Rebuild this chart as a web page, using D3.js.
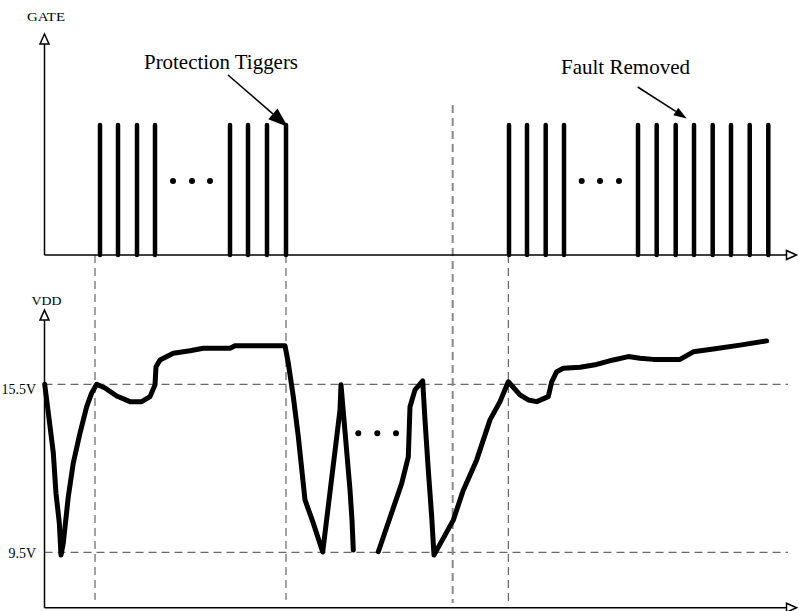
<!DOCTYPE html>
<html><head><meta charset="utf-8">
<script src="https://cdn.jsdelivr.net/npm/d3@7"></script>
<style>body{margin:0;background:#fff}svg{display:block}text{font-family:"Liberation Serif","Times New Roman",serif;fill:#000}</style>
</head><body>
<script>
// ---- data (time in arbitrary units, voltage in V) ----
const pulseTimesA = [55.5, 73.5, 92.5, 110.5, 185.5, 203.5, 222.5, 241.5];
const pulseTimesB = [464.5, 482.5, 501.2, 519.5, 593.5, 612.2, 631.2, 649.5, 668.2, 686.5, 705.2, 723.8];
const gateHigh = 1;
const vddSeg1 = [
 [0.2,15.5],[5.5,14.0],[8.8,13.05],[11.5,11.6],[14.8,10.55],[16.5,9.4],[18.8,9.83],[23.8,11.49],[28.8,12.69],
 [35.5,13.76],[42.2,14.7],[47.2,15.19],[52.2,15.5],[60.5,15.37],[72.2,15.08],[85.5,14.88],[97.2,14.88],
 [105.5,15.06],[110.5,15.48],[111.5,16.13],[115.5,16.37],[128.8,16.61],[145.5,16.7],[158.8,16.79],
 [185.5,16.79],[190.5,16.88],[240.5,16.88],[243.8,16.26],[248.8,15.06],[253.8,13.63],[260.5,11.37],
 [268.8,10.54],[278.2,9.51],[295.5,14.58],[296.5,15.48],[299.5,14.23],[305.5,11.73],[307.5,10.65],[308.8,9.58]
];
const vddSeg2 = [
 [333.8,9.52],[357.2,11.96],[363.8,12.91],[365.5,14.7],[370.5,15.3],[378.2,15.62],[380.5,14.22],[383.8,12.44],
 [387.2,10.77],[389.5,9.4],[408.8,10.65],[418.8,11.72],[432.2,12.8],[445.5,14.23],[455.5,14.88],[463.8,15.59],
 [475.5,15.12],[483.8,14.94],[492.2,14.88],[503.8,15.06],[507.2,15.59],[512.2,15.95],[518.8,16.07],[535.5,16.11],
 [552.2,16.21],[568.8,16.37],[583.8,16.49],[595.5,16.43],[608.8,16.39],[635.5,16.39],[648.8,16.66],[668.8,16.76],
 [695.5,16.9],[722.2,17.05]
];
const vddTicks = [15.5, 9.5];
const vddTickLabels = ["15.5V", "9.5V"];
const gateDotsT = [128.5, 147.5, 165.5];
const vddDotsT = [313.8, 332.8, 351.5];
const vddDotsV = 13.75;
const gateDots2T = [537.2, 555.5, 574.5];
const gateDotsV = 0.57;
// vertical markers: time, top (gate units), bottom (V)
const markerT = [50.5, 241.5, 408.2, 463.8];
const markerTopGate = [0, 0, 1.154, 0];
const markerBottomV = [7.8, 7.8, 7.69, 7.72];
const annotations = ["Protection Tiggers", "Fault Removed"];

// ---- scales ----
const W = 799, H = 611;
const x = d3.scaleLinear().domain([0, 750]).range([44.5, 794.5]);
const yG = d3.scaleLinear().domain([0, 1]).range([255, 125]);
const yV = d3.scaleLinear().domain([9.5, 15.5]).range([552.3, 384.3]);
const gateTop = 1.7, vMin = 7.52, vTop = 18.15, tEnd = 752;

const svg = d3.select("body").append("svg").attr("width", W).attr("height", H);

// dashed guides
const g = svg.append("g");
vddTicks.forEach(v => {
  g.append("line").attr("x1", x(0)).attr("x2", x(743.5)).attr("y1", yV(v)).attr("y2", yV(v))
   .attr("stroke", "#444").attr("stroke-width", 1).attr("stroke-dasharray", "8,5");
});
markerT.forEach((t, i) => {
  const special = i === 2;
  g.append("line").attr("x1", x(t)).attr("x2", x(t)).attr("y1", yG(markerTopGate[i])).attr("y2", yV(markerBottomV[i]))
   .attr("stroke", special ? "#888" : "#444").attr("stroke-width", special ? 2 : 1).attr("stroke-dasharray", "8,5");
});

// axes with open arrowheads
function axisArrowUp(cx, yTop, yBottom) {
  svg.append("line").attr("x1", cx).attr("x2", cx).attr("y1", yBottom).attr("y2", yTop + 9)
    .attr("stroke", "#000").attr("stroke-width", 1.5);
  svg.append("path").attr("d", `M${cx},${yTop} L${cx-4.5},${yTop+10} L${cx+4.5},${yTop+10} Z`)
    .attr("fill", "#fff").attr("stroke", "#000").attr("stroke-width", 1.5);
}
function axisArrowRight(cy, xLeft, xRight) {
  svg.append("line").attr("x1", xLeft).attr("x2", xRight - 9).attr("y1", cy).attr("y2", cy)
    .attr("stroke", "#000").attr("stroke-width", 1.5);
  svg.append("path").attr("d", `M${xRight},${cy} L${xRight-10},${cy-4.5} L${xRight-10},${cy+4.5} Z`)
    .attr("fill", "#fff").attr("stroke", "#000").attr("stroke-width", 1.5);
}
axisArrowUp(x(0), yG(gateTop), yG(0));
axisArrowRight(yG(0), x(0), x(tEnd));
axisArrowUp(x(0), yV(vTop), yV(vMin));
axisArrowRight(yV(vMin), x(0), x(tEnd));

svg.append("text").attr("x", x(1.5)).attr("y", 21).attr("text-anchor", "middle").attr("font-size", 12.5)
  .attr("textLength", 38).attr("lengthAdjust", "spacingAndGlyphs").text("GATE");
svg.append("text").attr("x", x(2)).attr("y", 305).attr("text-anchor", "middle").attr("font-size", 13)
  .attr("textLength", 30).attr("lengthAdjust", "spacingAndGlyphs").text("VDD");

vddTicks.forEach((v, i) => {
  svg.append("text").attr("x", 36).attr("y", yV(v) + (i === 0 ? 9.5 : 5.5)).attr("text-anchor", "end")
    .attr("font-size", 14).text(vddTickLabels[i]);
});

// gate pulses
const pulses = pulseTimesA.concat(pulseTimesB);
svg.append("g").selectAll("line").data(pulses).join("line")
  .attr("x1", d => x(d)).attr("x2", d => x(d)).attr("y1", yG(0)).attr("y2", yG(gateHigh))
  .attr("stroke", "#000").attr("stroke-width", 4.5).attr("stroke-linecap", "round");

// dots
svg.append("g").selectAll("circle").data(gateDotsT.concat(gateDots2T)).join("circle")
  .attr("cx", d => x(d)).attr("cy", yG(gateDotsV)).attr("r", 3).attr("fill", "#000");
svg.append("g").selectAll("circle").data(vddDotsT).join("circle")
  .attr("cx", d => x(d)).attr("cy", yV(vddDotsV)).attr("r", 3).attr("fill", "#000");

// VDD curve
const line = d3.line().x(d => x(d[0])).y(d => yV(d[1])).curve(d3.curveLinear);
[vddSeg1, vddSeg2].forEach(seg => {
  svg.append("path").attr("d", line(seg)).attr("fill", "none").attr("stroke", "#000")
    .attr("stroke-width", 5).attr("stroke-linejoin", "round").attr("stroke-linecap", "round");
});

// annotations
svg.append("text").attr("x", 144).attr("y", 69).attr("font-size", 21)
  .attr("textLength", 154).attr("lengthAdjust", "spacingAndGlyphs").text(annotations[0]);
svg.append("text").attr("x", 561).attr("y", 74).attr("font-size", 21)
  .attr("textLength", 129).attr("lengthAdjust", "spacingAndGlyphs").text(annotations[1]);

function arrow(x1, y1, x2, y2, len, half) {
  const a = Math.atan2(y2 - y1, x2 - x1);
  const bx = x2 - len * Math.cos(a), by = y2 - len * Math.sin(a);
  svg.append("line").attr("x1", x1).attr("y1", y1).attr("x2", bx).attr("y2", by)
    .attr("stroke", "#000").attr("stroke-width", 1.5);
  const px = -Math.sin(a) * half, py = Math.cos(a) * half;
  svg.append("path").attr("d", `M${x2},${y2} L${bx+px},${by+py} L${bx-px},${by-py} Z`).attr("fill", "#000");
}
arrow(228, 75, x(243.5), yG(0.985), 20, 7);
arrow(637.7, 87, 686.7, 118.5, 13, 4.5);
</script>
</body></html>
